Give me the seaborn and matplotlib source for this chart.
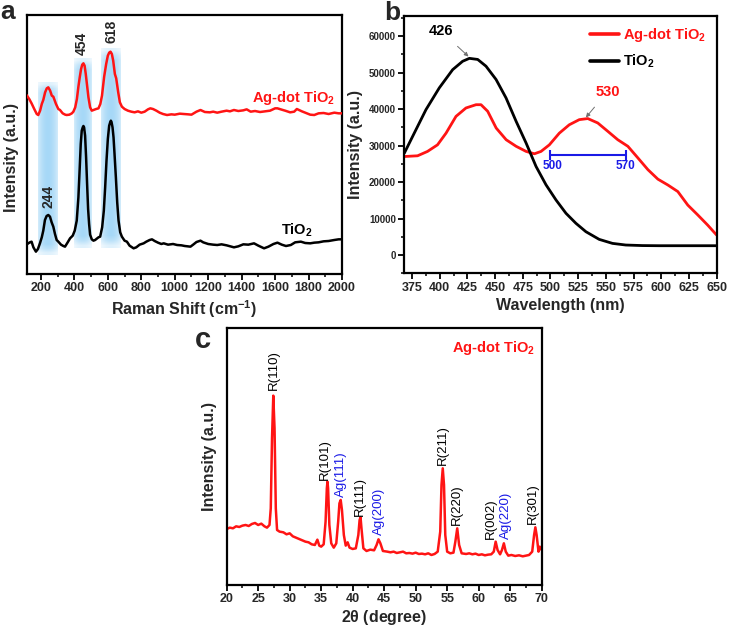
import numpy as np
import pandas as pd
import matplotlib
matplotlib.use("Agg")
import matplotlib.pyplot as plt
import seaborn as sns
from matplotlib.ticker import MultipleLocator

# ---------------- data ----------------
# (a) Raman spectra (arbitrary intensity units)
raman_ag_x = [114, 130, 144, 160, 175, 184, 195, 205, 214, 225, 235, 244, 255, 265, 274, 290, 304, 314, 330, 345,
              354, 370, 385, 394, 405, 415, 424, 432, 440, 447, 454, 461, 468, 476, 484, 494, 504, 514, 530, 544,
              555, 565, 578, 590, 600, 608, 616, 624, 632, 642, 650, 662, 672, 684, 700, 720, 740, 760, 780, 800,
              820, 840, 854, 870, 890, 910, 930, 954, 980, 1000, 1030, 1054, 1080, 1100, 1130, 1154, 1180, 1210,
              1230, 1254, 1280, 1310, 1330, 1354, 1380, 1410, 1430, 1454, 1480, 1510, 1540, 1570, 1600, 1614,
              1640, 1660, 1690, 1714, 1730, 1760, 1790, 1810, 1834, 1860, 1890, 1920, 1954, 1980, 2000]
raman_ag_y = [537, 525, 512, 495, 480, 477, 490, 510, 522, 545, 557, 560, 550, 535, 532, 510, 495, 492, 482, 478,
              477, 478, 482, 487, 500, 525, 562, 590, 615, 628, 632, 625, 600, 565, 530, 500, 490, 492, 495, 497,
              510, 535, 592, 630, 655, 664, 667, 660, 640, 600, 587, 545, 515, 502, 495, 490, 487, 485, 488, 484,
              487, 494, 497, 495, 490, 484, 480, 477, 479, 478, 481, 480, 479, 478, 487, 492, 486, 485,
              487, 484, 487, 490, 488, 492, 489, 491, 494, 487, 489, 486, 488, 490, 497, 497,
              493, 490, 485, 487, 495, 488, 482, 478, 477, 482, 483, 480, 484, 482, 482]
raman_ti_x = [114, 124, 134, 144, 155, 170, 182, 194, 205, 214, 224, 234, 244, 254, 264, 274, 284, 294, 304, 320,
              334, 344, 360, 374, 390, 402, 414, 424, 432, 438, 444, 450, 454, 458, 464, 470, 476, 482, 488, 494,
              504, 514, 524, 534, 544, 554, 566, 576, 584, 592, 600, 608, 614, 618, 622, 628, 634, 640, 648, 656,
              664, 674, 684, 700, 714, 730, 754, 770, 790, 814, 830, 850, 864, 880, 900, 920, 934, 960, 990, 1014,
              1040, 1060, 1094, 1110, 1130, 1154, 1170, 1200, 1230, 1254, 1280, 1310, 1354, 1380, 1410, 1440,
              1474, 1500, 1534, 1560, 1590, 1614, 1640, 1665, 1694, 1720, 1754, 1780, 1810, 1834, 1860, 1890,
              1920, 1954, 1980, 2000]
raman_ti_y = [88, 92, 95, 97, 80, 67, 75, 92, 110, 130, 162, 174, 177, 172, 155, 142, 120, 102, 97, 88,
              84, 82, 95, 107, 115, 130, 160, 230, 320, 390, 430, 440, 444, 440, 415, 350, 270, 195, 150, 118,
              104, 100, 102, 106, 110, 112, 140, 190, 260, 340, 405, 445, 455, 460, 456, 440, 410, 360, 290, 215,
              160, 125, 112, 100, 97, 85, 77, 80, 88, 92, 97, 102, 104, 99, 94, 90, 92, 88, 90, 87,
              86, 84, 82, 88, 96, 100, 95, 90, 88, 87, 89, 86, 80, 83, 89, 88,
              92, 85, 77, 82, 90, 94, 88, 84, 87, 95, 97, 93, 92, 94, 95, 98,
              99, 102, 104, 104]
raman_peaks = [244, 454, 618]
raman_bands = [(182, 296, 57, 576), (398, 505, 78, 648), (559, 673, 78, 678)]

# (b) photoluminescence curves
wl_ti = [368, 377, 387.6, 399.6, 411.7, 420.7, 426.8, 434.3, 441.8, 450.9, 459.9, 469, 478, 487, 496, 505, 514,
         523, 532, 544, 556, 568, 583, 598, 620, 650]
int_ti = [27900, 33400, 39850, 45800, 50800, 53100, 53900, 53600, 51750, 48100, 43050, 36640, 30700, 24270,
          19240, 15100, 11450, 8700, 6400, 4300, 3200, 2750, 2600, 2560, 2560, 2560]
wl_ag = [368, 380, 389, 398, 405.7, 414.7, 423.7, 432.8, 437.3, 443.3, 451, 460, 469, 478, 485.5, 491.5, 499,
         508, 517, 526, 533.7, 542.7, 551.8, 560.8, 569.9, 579, 588, 597, 606, 615, 624, 633, 642, 650]
int_ag = [27000, 27200, 28400, 30200, 33400, 38000, 40300, 41200, 41200, 39400, 34800, 31600, 29800, 28400,
          27750, 28400, 30200, 33400, 35700, 37100, 37400, 36200, 33900, 31600, 29800, 26600, 23400, 20800,
          19200, 17400, 13700, 11000, 8200, 5500]
pl_peak_ti = 426
pl_peak_ag = 530
pl_range = (500, 570)

# (c) XRD pattern
xrd_x = [20, 20.5, 21, 21.5, 22, 22.5, 23, 23.5, 24, 24.5, 25, 25.5, 26, 26.4, 26.8, 27.0, 27.2, 27.4, 27.6, 27.8,
         28.0, 28.4, 29, 29.5, 30, 30.5, 31, 31.5, 32, 32.5, 33, 33.5, 34, 34.4, 34.7, 35, 35.4, 35.7, 35.9, 36.0,
         36.1, 36.3, 36.6, 37, 37.4, 37.7, 37.9, 38.1, 38.3, 38.6, 38.9, 39.2, 39.5, 40, 40.5, 40.9, 41.1, 41.25,
         41.4, 41.7, 42.2, 42.8, 43.4, 43.8, 44.1, 44.4, 44.8, 45.5, 46, 46.5, 47, 47.5, 48, 48.5, 49, 49.5, 50,
         50.5, 51, 51.5, 52, 52.5, 53, 53.5, 53.9, 54.1, 54.3, 54.5, 54.7, 55.0, 55.5, 56.0, 56.3, 56.6, 56.9,
         57.3, 58, 58.5, 59, 59.5, 60, 60.5, 61, 61.5, 62, 62.4, 62.7, 63.0, 63.4, 63.7, 64.0, 64.3, 64.7, 65.2,
         65.8, 66.4, 67, 67.5, 68, 68.5, 68.8, 69.0, 69.2, 69.5, 69.7, 70]
xrd_y = [168, 172, 170, 176, 174, 178, 180, 177, 183, 186, 180, 184, 176, 172, 180, 230, 440, 568, 470, 230,
         165, 160, 158, 152, 155, 146, 142, 138, 134, 130, 128, 122, 120, 136, 118, 115, 122, 190, 290, 310,
         290, 180, 125, 112, 125, 190, 245, 255, 225, 150, 118, 128, 112, 108, 110, 150, 195, 203,
         170, 110, 102, 106, 104, 120, 137, 125, 102, 100, 98, 100, 96, 98, 100, 95, 96, 94, 97,
         93, 94, 92, 95, 90, 93, 100, 160, 300, 350, 300, 150, 100, 95, 97, 130, 170, 120,
         95, 93, 95, 92, 94, 90, 92, 89, 91, 92, 100, 130, 105, 92, 105, 125, 100, 88, 90,
         87, 89, 86, 88, 90, 100, 150, 173, 150, 100, 115, 105]
xrd_labels = ["R(110)", "R(101)", "Ag(111)", "R(111)", "Ag(200)", "R(211)", "R(220)", "R(002)", "Ag(220)", "R(301)"]
xrd_label_x = [27.5, 35.6, 38.2, 41.2, 44.2, 54.3, 56.6, 61.9, 64.4, 68.6]
xrd_label_y = [585, 315, 265, 207, 150, 360, 180, 137, 137, 183]

# ---------------- style ----------------
sns.set_theme(style="ticks")
plt.rcParams["font.family"] = ["Liberation Sans", "DejaVu Sans"]
plt.rcParams["font.weight"] = "bold"
plt.rcParams["mathtext.fontset"] = "custom"
plt.rcParams["mathtext.rm"] = "Liberation Sans:bold"
plt.rcParams["mathtext.bf"] = "Liberation Sans:bold"
plt.rcParams["mathtext.it"] = "Liberation Sans:bold"

RED = "#ff1414"
BLUE = "#1a1ae6"
TICK_FS = 9
LABEL_FS = 11.5

fig = plt.figure(figsize=(7.30, 6.28), dpi=100)
ax_a = fig.add_axes([0.0366, 0.5637, 0.4319, 0.4124])
ax_b = fig.add_axes([0.5538, 0.5648, 0.4278, 0.4097])
ax_c = fig.add_axes([0.3105, 0.0685, 0.4315, 0.4087])


def style_axes(ax):
    for s in ax.spines.values():
        s.set_visible(True)
        s.set_linewidth(1.6)
        s.set_color("black")
    ax.tick_params(which="major", direction="out", length=4, width=1.3, labelsize=TICK_FS, pad=2, color="black")
    ax.tick_params(which="minor", direction="out", length=2.5, width=1.1, color="black")
    for lbl in ax.get_xticklabels() + ax.get_yticklabels():
        lbl.set_fontweight("bold")


# ---------------- (a) Raman ----------------
band_rgb = np.array([0.52, 0.79, 0.96])
u = np.linspace(-1, 1, 60)
v = np.linspace(-1, 1, 40)
U, V = np.meshgrid(u, v)
alpha = 0.72 * (1 - 0.5 * U ** 2)
alpha = np.clip(alpha * (1 - np.clip(np.abs(V) - 0.92, 0, 1) * 8), 0, 1)
img = np.zeros((40, 60, 4))
img[..., :3] = band_rgb
img[..., 3] = alpha
for (x0, x1, y0, y1) in raman_bands:
    ax_a.imshow(img, extent=(x0, x1, y0, y1), aspect="auto", zorder=0, interpolation="bilinear")

sns.lineplot(x=raman_ag_x, y=raman_ag_y, ax=ax_a, color=RED, lw=1.8, sort=False, estimator=None, zorder=3)
sns.lineplot(x=raman_ti_x, y=raman_ti_y, ax=ax_a, color="black", lw=1.8, sort=False, estimator=None, zorder=3)
ax_a.set_xlim(115, 2000)
ax_a.set_ylim(0, 777)
ax_a.xaxis.set_major_locator(MultipleLocator(200))
ax_a.xaxis.set_minor_locator(MultipleLocator(100))
ax_a.set_yticks([])
ax_a.set_xlabel(r"Raman Shift (cm$^{-1}$)", fontsize=LABEL_FS, fontweight="bold", labelpad=3)
ax_a.set_ylabel("Intensity (a.u.)", fontsize=LABEL_FS, fontweight="bold", labelpad=2)
ax_a.yaxis.set_label_coords(-0.025, 0.45)
style_axes(ax_a)

ax_a.text(244, 197, "244", rotation=90, ha="center", va="bottom", fontsize=10, fontweight="bold")
ax_a.text(446, 657, "454", rotation=90, ha="center", va="bottom", fontsize=10, fontweight="bold")
ax_a.text(619, 692, "618", rotation=90, ha="center", va="bottom", fontsize=10, fontweight="bold")
ax_a.text(1960, 527, r"Ag-dot TiO$_{2}$", ha="right", va="center", fontsize=10.5, fontweight="bold", color=RED)
ax_a.text(1823, 132, r"TiO$_{2}$", ha="right", va="center", fontsize=10.5, fontweight="bold", color="black")

# ---------------- (b) ----------------
sns.lineplot(x=wl_ag, y=int_ag, ax=ax_b, color=RED, lw=2.0, sort=False, estimator=None,
             label=r"Ag-dot TiO$_{2}$")
sns.lineplot(x=wl_ti, y=int_ti, ax=ax_b, color="black", lw=2.0, sort=False, estimator=None,
             label=r"TiO$_{2}$")
ax_b.set_xlim(368, 650)
ax_b.set_ylim(-5000, 65500)
ax_b.xaxis.set_major_locator(MultipleLocator(25))
ax_b.xaxis.set_minor_locator(MultipleLocator(12.5))
ax_b.yaxis.set_major_locator(MultipleLocator(10000))
ax_b.yaxis.set_minor_locator(MultipleLocator(5000))
ax_b.set_xlabel("Wavelength (nm)", fontsize=LABEL_FS, fontweight="bold", labelpad=3)
ax_b.set_ylabel("Intensity (a.u.)", fontsize=LABEL_FS, fontweight="bold", labelpad=4)
style_axes(ax_b)
ax_b.tick_params(axis="y", labelsize=7)
for lbl in ax_b.get_yticklabels():
    lbl.set_fontweight("bold")
leg = ax_b.legend(loc="upper right", bbox_to_anchor=(1.0, 1.0), frameon=False, fontsize=10.5,
                  handlelength=2.0, handletextpad=0.3, labelspacing=0.6, borderaxespad=0.3,
                  labelcolor="linecolor")
for t in leg.get_texts():
    t.set_fontweight("bold")
for h in leg.get_lines():
    h.set_linewidth(2.6)

ax_b.annotate(str(pl_peak_ti), xy=(pl_peak_ti, 54400), xytext=(401.5, 61300), ha="center", va="center",
              fontsize=10.5, fontweight="bold", color="black",
              arrowprops=dict(arrowstyle="-|>", color="#707070", lw=0.7, mutation_scale=6, shrinkA=5, shrinkB=0))
ax_b.annotate(str(pl_peak_ag), xy=(pl_peak_ag + 2, 37700), xytext=(551.5, 44800), ha="center", va="center",
              fontsize=10.5, fontweight="bold", color=RED,
              arrowprops=dict(arrowstyle="-|>", color="#707070", lw=0.7, mutation_scale=6, shrinkA=5, shrinkB=0))
r0, r1 = pl_range
ax_b.plot([r0, r1 - 2], [27500, 27500], color=BLUE, lw=1.5)
ax_b.plot([r0, r1 - 2], [27500, 27500], color=BLUE, lw=0, marker="|", markersize=7, markeredgewidth=1.5)
ax_b.text(r0 + 1.5, 24300, str(r0), ha="center", va="center", fontsize=8.5, fontweight="bold", color=BLUE)
ax_b.text(r1 - 2, 24300, str(r1), ha="center", va="center", fontsize=8.5, fontweight="bold", color=BLUE)

# ---------------- (c) XRD ----------------
sns.lineplot(x=xrd_x, y=xrd_y, ax=ax_c, color=RED, lw=1.8, sort=False, estimator=None)
ax_c.set_xlim(20, 70)
ax_c.set_ylim(0, 770)
ax_c.xaxis.set_major_locator(MultipleLocator(5))
ax_c.xaxis.set_minor_locator(MultipleLocator(2.5))
ax_c.set_yticks([])
ax_c.set_xlabel(r"2$\theta$ (degree)", fontsize=LABEL_FS, fontweight="bold", labelpad=2)
ax_c.set_ylabel("Intensity (a.u.)", fontsize=LABEL_FS, fontweight="bold", labelpad=7)
style_axes(ax_c)
for name, lx, ly in zip(xrd_labels, xrd_label_x, xrd_label_y):
    col = BLUE if name.startswith("Ag") else "black"
    ax_c.text(lx, ly, name, rotation=90, ha="center", va="bottom", fontsize=9.5, fontweight="normal", color=col)
ax_c.text(68.9, 711, r"Ag-dot TiO$_{2}$", ha="right", va="center", fontsize=10.5, fontweight="bold", color=RED)

# panel letters
fig.text(0.011, 0.981, "a", fontsize=19, fontweight="bold", ha="center", va="center")
fig.text(0.538, 0.979, "b", fontsize=19, fontweight="bold", ha="center", va="center")
fig.text(0.278, 0.459, "c", fontsize=21, fontweight="bold", ha="center", va="center")

fig.savefig("out.png", dpi=100)
